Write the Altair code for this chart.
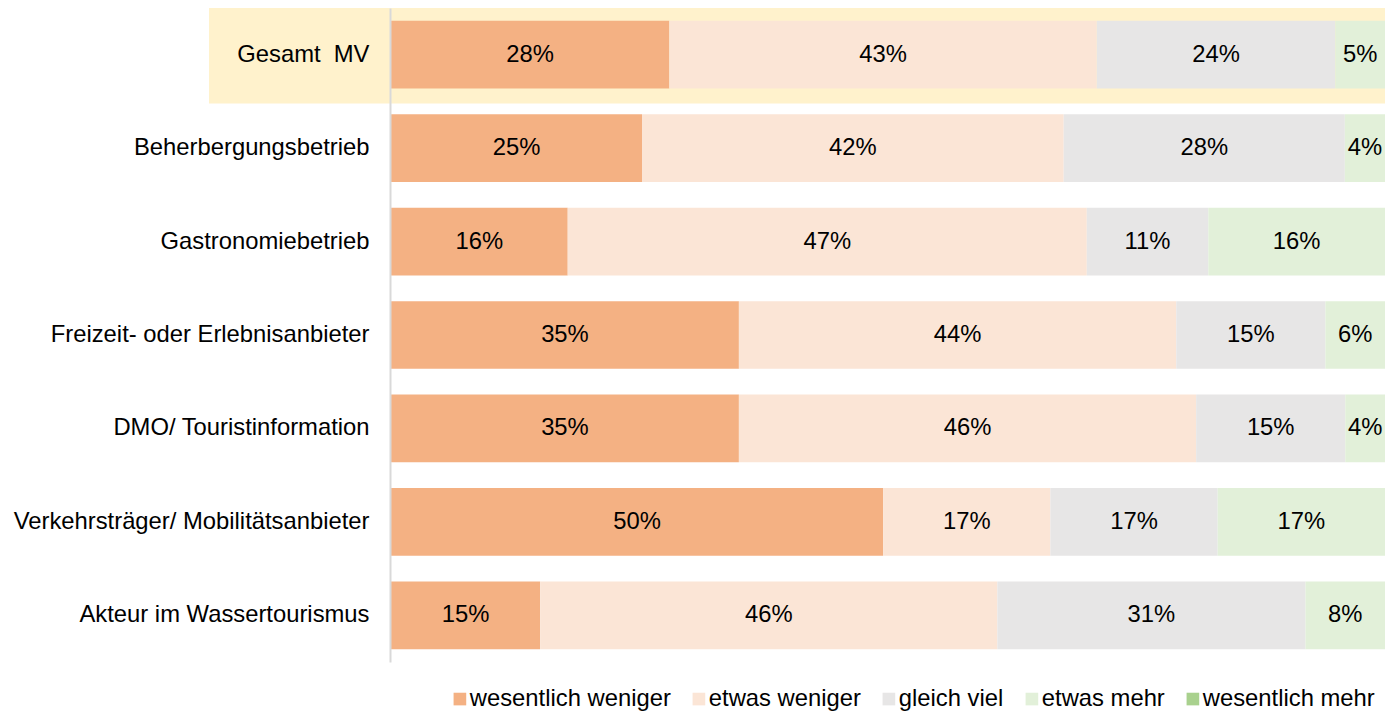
import altair as alt
import pandas as pd

# ---- data ----
categories = [
    "Gesamt\u00a0\u00a0MV",
    "Beherbergungsbetrieb",
    "Gastronomiebetrieb",
    "Freizeit- oder Erlebnisanbieter",
    "DMO/ Touristinformation",
    "Verkehrsträger/ Mobilitätsanbieter",
    "Akteur im Wassertourismus",
]
levels = ["wesentlich weniger", "etwas weniger", "gleich viel", "etwas mehr", "wesentlich mehr"]

wesentlich_weniger = [28, 25, 16, 35, 35, 50, 15]
etwas_weniger = [43, 42, 47, 44, 46, 17, 46]
gleich_viel = [24, 28, 11, 15, 15, 17, 31]
etwas_mehr = [5, 4, 16, 6, 4, 17, 8]
wesentlich_mehr = [0, 0, 0, 0, 0, 0, 0]

colors = ["#F4B183", "#FBE5D6", "#E7E6E6", "#E2F0D9", "#A9D18E"]
highlight_category = categories[0]
highlight_color = "#FFF2CC"

series = dict(zip(levels, [wesentlich_weniger, etwas_weniger, gleich_viel, etwas_mehr, wesentlich_mehr]))

rows = []
for ci, cat in enumerate(categories):
    for li, lev in enumerate(levels):
        rows.append({"category": cat, "level": lev, "order": li, "value": series[lev][ci]})
df = pd.DataFrame(rows)

FONT = "Liberation Sans"
FS = 23.8
W = 994
H = 654

y_axis = alt.Axis(
    title=None, ticks=False, domainColor="#D9D9D9", domainWidth=2, offset=1,
    labelFont=FONT, labelFontSize=FS, labelColor="#000000", labelPadding=21,
    labelLimit=0, grid=False, zindex=1,
)
y_scale = alt.Scale(paddingInner=0.275, paddingOuter=0.1375)

def Y(axis=None):
    if axis is None:
        return alt.Y("category:N", sort=categories, scale=y_scale)
    return alt.Y("category:N", sort=categories, scale=y_scale, axis=axis)

highlight = alt.Chart(pd.DataFrame({"category": [highlight_category]})).mark_bar(
    color=highlight_color, height={"band": 1.437}
).encode(
    y=Y(y_axis),
    x=alt.value(-182),
    x2=alt.value(W + 10),
)

base = (
    alt.Chart(df)
    .transform_joinaggregate(total="sum(value)", groupby=["category"])
    .transform_calculate(pct="datum.value / datum.total")
    .transform_stack(
        stack="pct", groupby=["category"], as_=["x0", "x1"],
        sort=[alt.SortField("order", order="ascending")],
    )
    .transform_calculate(mid="(datum.x0 + datum.x1) / 2", label="datum.value + '%'")
)

x_scale = alt.Scale(domain=[0, 1], nice=False, zero=True)

bars = base.mark_bar().encode(
    y=Y(),
    x=alt.X("x0:Q", scale=x_scale, axis=None),
    x2="x1:Q",
    color=alt.Color(
        "level:N",
        scale=alt.Scale(domain=levels, range=colors),
        legend=alt.Legend(
            title=None, orient="none", legendX=57, legendY=679, direction="horizontal",
            symbolType="square", symbolSize=160, symbolStrokeWidth=0, symbolOpacity=1,
            labelFont=FONT, labelFontSize=FS, labelColor="#000000",
            labelOffset={"expr": "-2"},
            columnPadding=16, labelLimit=0,
        ),
    ),
)

labels = base.transform_filter("datum.value > 0").mark_text(
    font=FONT, fontSize=FS, color="#000000", baseline="middle", align="center"
).encode(
    y=Y(),
    x=alt.X("mid:Q", scale=x_scale, axis=None),
    text="label:N",
)

chart = (
    alt.layer(highlight, bars, labels)
    .properties(
        width=W, height=H,
        padding={"left": 383, "top": 0, "right": 0, "bottom": 52},
        autosize=alt.AutoSizeParams(type="none"),
        background="white",
    )
    .configure_view(strokeWidth=0)
)

chart.save("out.html", embed_options={"renderer": "svg", "actions": False})
